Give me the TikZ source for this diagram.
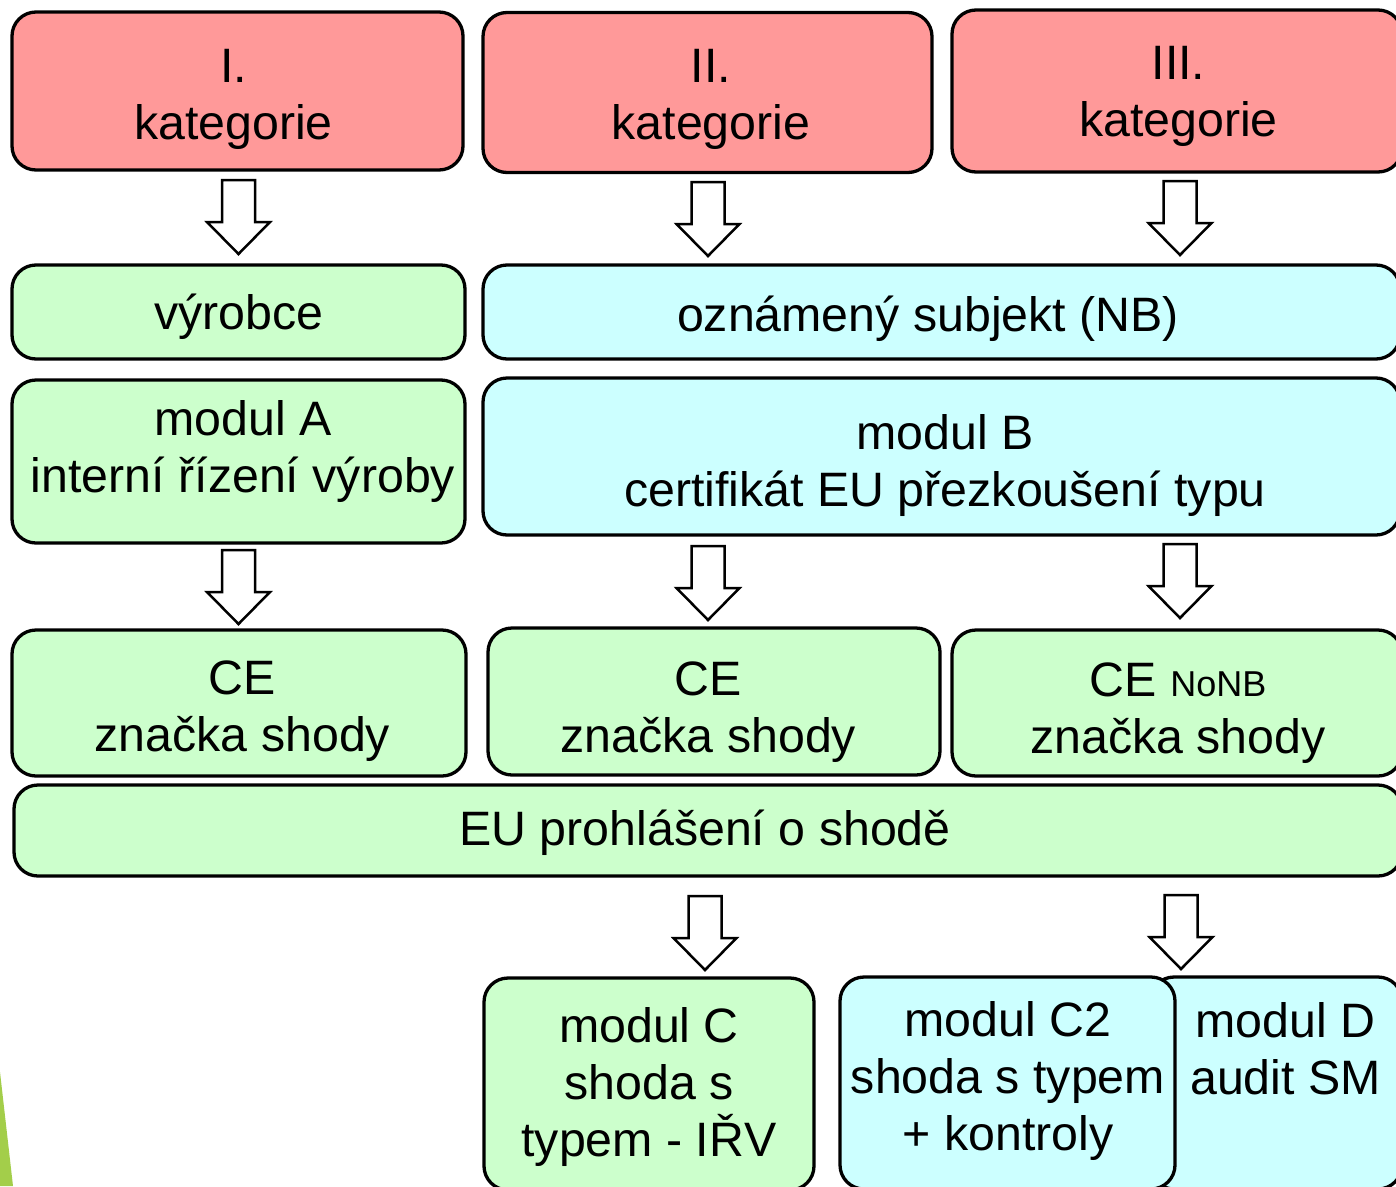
\documentclass[tikz,border=0pt]{standalone}
\usepackage{fontspec}
\setmainfont{Liberation Sans}
\definecolor{catred}{HTML}{FF9999}
\definecolor{mgreen}{HTML}{CCFFCC}
\definecolor{mcyan}{HTML}{CCFFFF}
\definecolor{accentgreen}{HTML}{A3CE4A}
\begin{document}
\begin{tikzpicture}[x=1pt,y=-1pt,
  box/.style={draw=black, line width=3.3pt, rounded corners=24pt, inner sep=0pt},
  catbox/.style={box, fill=catred},
  greenbox/.style={box, fill=mgreen},
  cyanbox/.style={box, fill=mcyan},
  txt/.style={align=center, font=\fontsize{48.3}{57}\selectfont, inner sep=0pt},
  blockarr/.pic={
    \draw[line width=2.5pt, fill=white, line join=miter]
      (-16.5,0) -- (16.5,0) -- (16.5,42) -- (31.5,42) -- (0,74)
      -- (-31.5,42) -- (-16.5,42) -- cycle;
  }
]
\useasboundingbox (0,0) rectangle (1396,1186);
\clip (0,0) rectangle (1396,1186);
\fill[white] (0,0) rectangle (1396,1186);
\fill[accentgreen] (0,1072) -- (13,1186) -- (0,1186) -- cycle;

% row 1
\node[catbox, minimum width=451pt, minimum height=158pt] (k1) at (237.5,91) {};
\node[txt] (k1t) at (233.5,99) {I.\\kategorie};
\node[catbox, minimum width=449pt, minimum height=160pt] (k2) at (707.5,92.5) {};
\node[txt] (k2t) at (711,99.5) {II.\\kategorie};
\node[catbox, minimum width=450pt, minimum height=162pt] (k3) at (1177,91) {};
\node[txt] (k3t) at (1178.5,96.5) {III.\\kategorie};

% row 2
\node[greenbox, minimum width=453pt, minimum height=94pt] (vyr) at (238.5,312) {};
\node[txt] (vyrt) at (239,317) {výrobce};
\node[cyanbox, minimum width=917pt, minimum height=94pt] (nb) at (941.5,312) {};
\node[txt] (nbt) at (928,319) {oznámený subjekt (NB)};

% row 3
\node[greenbox, minimum width=453pt, minimum height=163pt] (ma) at (238.5,461.5) {};
\node[txt] (mat) at (243,451.5) {modul A\\interní řízení výroby};
\node[cyanbox, minimum width=917pt, minimum height=157pt] (mb) at (941.5,456.5) {};
\node[txt] (mbt) at (945,465.5) {modul B\\certifikát EU přezkoušení typu};

% row 4
\node[greenbox, minimum width=454pt, minimum height=146pt] (ce1) at (239,703) {};
\node[txt] (ce1t) at (242.5,711.5) {CE\\značka shody};
\node[greenbox, minimum width=452pt, minimum height=147pt] (ce2) at (714,701.5) {};
\node[txt] (ce2t) at (708.5,712) {CE\\značka shody};
\node[greenbox, minimum width=450pt, minimum height=146pt] (ce3) at (1177,703) {};
\node[txt] (ce3t) at (1178,713) {CE {\fontsize{36}{40}\selectfont NoNB}\\značka shody};

% row 5
\node[greenbox, minimum width=1388pt, minimum height=91pt] (eu) at (708,830.5) {};
\node[txt] (eut) at (705,832.5) {EU prohlášení o shodě};

% row 6
\node[greenbox, minimum width=330pt, minimum height=212pt] (mc) at (649,1084) {};
\node[txt] (mct) at (649,1086.5) {modul C\\shoda s\\typem - IŘV};
\node[cyanbox, minimum width=252pt, minimum height=212pt] (md) at (1276,1083) {};
\node[txt] (mdt) at (1285.5,1077) {modul D\\audit SM\\\mbox{}};
\node[cyanbox, minimum width=335pt, minimum height=212pt] (mc2) at (1007.5,1083) {};
\node[txt] (mc2t) at (1008,1081) {modul C2\\shoda s typem\\+ kontroly};

% block arrows
\pic (a1) at (238.5,180) {blockarr};
\pic (a2) at (708,182) {blockarr};
\pic (a3) at (1180,181) {blockarr};
\pic (a4) at (238.5,550) {blockarr};
\pic (a5) at (708,546) {blockarr};
\pic (a6) at (1180,544) {blockarr};
\pic (a7) at (705,896) {blockarr};
\pic (a8) at (1181,895) {blockarr};
\end{tikzpicture}
\end{document}
